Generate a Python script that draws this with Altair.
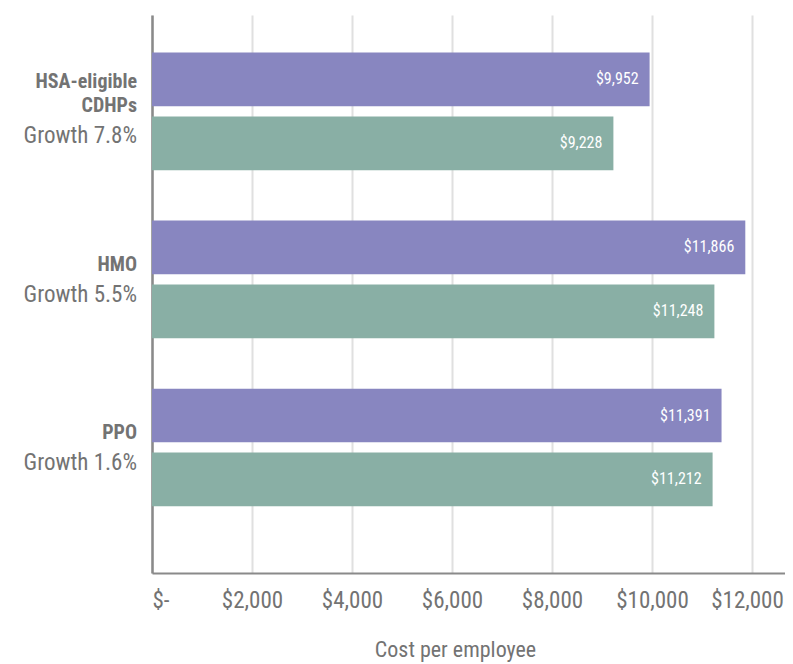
import altair as alt
import pandas as pd

categories = ["HSA-eligible CDHPs", "HMO", "PPO"]
name_lines = ["HSA-eligible\nCDHPs", "HMO", "PPO"]
growth_labels = ["Growth 7.8%", "Growth 5.5%", "Growth 1.6%"]
series = ["Current year", "Prior year"]
current_values = [9952, 11866, 11391]
prior_values = [9228, 11248, 11212]
x_ticks = [0, 2000, 4000, 6000, 8000, 10000, 12000]

FONT = "Roboto Condensed"
GRAY = "#737373"

rows = []
for c, cv, pv in zip(categories, current_values, prior_values):
    rows.append({"category": c, "series": series[0], "cost": cv})
    rows.append({"category": c, "series": series[1], "cost": pv})
bars_df = pd.DataFrame(rows)
bars_df["label"] = bars_df["cost"].map(lambda v: f"${v:,}")

labels_df = pd.DataFrame({"category": categories, "name": name_lines, "growth": growth_labels})
labels_df["two_line"] = labels_df["name"].str.contains("\n")

y_scale = alt.Scale(domain=categories, paddingInner=0.3, paddingOuter=0.31, align=0.36)
y_enc = alt.Y("category:N", scale=y_scale,
              axis=alt.Axis(title=None, labels=False, ticks=False, grid=False,
                            domain=True, domainColor="#8a8a8a", domainWidth=2.5))
yoff = alt.YOffset("series:N", scale=alt.Scale(domain=series, paddingInner=0.16, paddingOuter=0))
x_enc = alt.X("cost:Q", scale=alt.Scale(domain=[0, 12660], nice=False),
              axis=alt.Axis(values=x_ticks, title="Cost per employee",
                            labelExpr="datum.value == 0 ? '$-' : '$' + format(datum.value, ',')",
                            labelOffset={"condition": {"test": "datum.value == 12000", "value": -5}, "value": 0},
                            grid=True, gridColor="#e0e0e0", gridWidth=2,
                            ticks=False, domain=True, domainColor="#8a8a8a", domainWidth=2,
                            labelFont=FONT, labelFontSize=23, labelColor=GRAY, labelPadding=16,
                            titleFont=FONT, titleFontSize=22, titleFontWeight="normal",
                            titleColor=GRAY, titlePadding=27, titleX=303, titleAlign="center"))

bars = alt.Chart(bars_df).mark_bar().encode(
    x=x_enc, y=y_enc, yOffset=yoff,
    color=alt.Color("series:N", scale=alt.Scale(domain=series, range=["#8886c0", "#89afa5"]), legend=None),
)

values = alt.Chart(bars_df).mark_text(align="right", baseline="middle", dx=-11,
                                      color="white", font=FONT, fontSize=16).encode(
    x="cost:Q", y=alt.Y("category:N", scale=y_scale), yOffset=yoff, text="label:N")

def name_layer(two, dy):
    return alt.Chart(labels_df).transform_filter(
        f"datum.two_line == {'true' if two else 'false'}"
    ).mark_text(align="right", baseline="middle", dy=dy, lineBreak="\n",
                lineHeight=24, font=FONT, fontSize=20, fontWeight="bold",
                color=GRAY).encode(
        x=alt.value(-15), y=alt.Y("category:N", scale=y_scale), text="name:N")

def growth_layer(two, dy):
    return alt.Chart(labels_df).transform_filter(
        f"datum.two_line == {'true' if two else 'false'}"
    ).mark_text(align="right", baseline="middle", dy=dy,
                font=FONT, fontSize=23, color=GRAY).encode(
        x=alt.value(-15), y=alt.Y("category:N", scale=y_scale), text="growth:N")

chart = alt.layer(bars, values,
                  name_layer(True, -29), name_layer(False, -14),
                  growth_layer(True, 25), growth_layer(False, 16)).properties(
    width=633, height=558,
    autosize=alt.AutoSizeParams(type="none"),
    padding={"left": 144, "top": 7, "right": 0, "bottom": 90},
).configure_view(stroke=None)

chart.save("out.html", embed_options={"renderer": "svg", "actions": False})
